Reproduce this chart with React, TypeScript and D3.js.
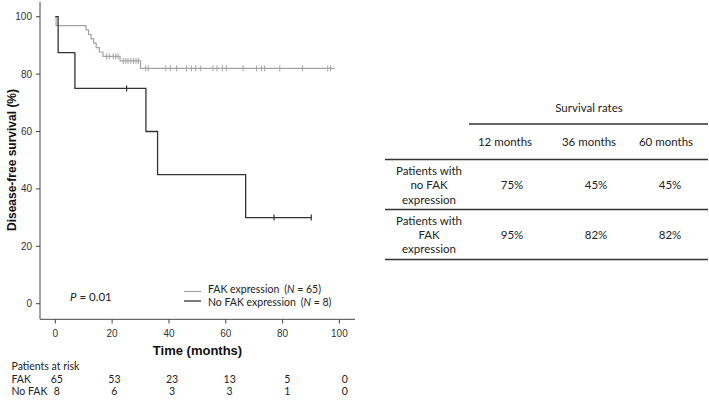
import React from "react";
import * as d3 from "d3";

// ---- Data ----
const xTicks = [0, 20, 40, 60, 80, 100];
const yTicks = [0, 20, 40, 60, 80, 100];

// FAK expression (N = 65): step times and survival after each step
const fakTimes = [0, 0.3, 10.8, 11.7, 12.6, 13.5, 14.4, 15.5, 16.8, 22.8, 30.0];
const fakSurv = [100, 96.9, 95.4, 93.8, 92.3, 90.8, 89.2, 87.7, 86.2, 84.6, 82.0];
const fakEnd = 98.3;
const fakCensor = [18.0, 19.0, 20.4, 21.3, 22.1, 23.9, 24.8, 25.6, 26.6, 27.5, 28.4, 29.2, 31.8, 32.7, 38.9, 40.5, 42.7, 46.2, 47.9, 49.4, 51.2, 55.5, 56.9, 58.8, 60.2, 66.1, 70.8, 72.6, 73.7, 79.0, 87.0, 95.9, 96.9];

// No FAK expression (N = 8)
const noFakTimes = [0, 1.0, 6.9, 31.9, 36.0, 67.0];
const noFakSurv = [100, 87.5, 75, 60, 45, 30];
const noFakEnd = 90.1;
const noFakCensor = [25.1, 77.0, 90.1];

// Risk table
const riskTimes = [0, 20, 40, 60, 80, 100];
const riskFak = [65, 53, 23, 13, 5, 0];
const riskNoFak = [8, 6, 3, 3, 1, 0];

// Survival-rate table
const rateHeaders = ["12 months", "36 months", "60 months"];
const rateRowLabels = [
  ["Patients with", "no FAK", "expression"],
  ["Patients with", "FAK", "expression"],
];
const rateNoFak = ["75%", "45%", "45%"];
const rateFak = ["95%", "82%", "82%"];

const x = d3.scaleLinear().domain([0, 100]).range([55.3, 339.4]);
const y = d3.scaleLinear().domain([0, 100]).range([303.7, 16.7]);

function survAt(times: number[], surv: number[], t: number) {
  let s = surv[0];
  for (let i = 0; i < times.length; i++) if (times[i] <= t) s = surv[i];
  return s;
}

const stepLine = d3
  .line<[number, number]>()
  .x((d) => x(d[0]))
  .y((d) => y(d[1]))
  .curve(d3.curveStepAfter);

function curvePath(times: number[], surv: number[], end: number) {
  const pts: [number, number][] = times.map((t, i) => [t, surv[i]]);
  pts.push([end, surv[surv.length - 1]]);
  return stepLine(pts) || "";
}

const GREY = "#a3a3a3";
const DARK = "#333333";
const AX = "#444444";
const sans = "'Liberation Sans', Arial, sans-serif";
const cal = "Lato, 'Open Sans', sans-serif";

export default function App() {
  const colX = [505, 589, 666];
  const valX = [512, 596, 670];
  return (
    <svg
      width={709}
      height={401}
      style={{ position: "absolute", left: 0, top: 0, background: "#fff" }}
    >
      {/* Axes */}
      <line x1={40} x2={40} y1={2} y2={319.3} stroke={AX} strokeWidth={1} />
      <line x1={40} x2={355} y1={319.3} y2={319.3} stroke={AX} strokeWidth={1} />
      {yTicks.map((t) => (
        <g key={"y" + t}>
          <line x1={36} x2={40} y1={y(t)} y2={y(t)} stroke={AX} />
          <text x={32} y={y(t)} dy="0.35em" textAnchor="end" fontFamily={sans} fontSize={10} fill="#333">
            {t}
          </text>
        </g>
      ))}
      {xTicks.map((t) => (
        <g key={"x" + t}>
          <line x1={x(t)} x2={x(t)} y1={319.3} y2={323.5} stroke={AX} />
          <text x={x(t)} y={333.3} dy="0.35em" textAnchor="middle" fontFamily={sans} fontSize={10} fill="#333">
            {t}
          </text>
        </g>
      ))}
      <text
        transform="translate(12,160) rotate(-90)"
        textAnchor="middle"
        dy="0.35em"
        fontFamily={sans}
        fontSize={12}
        fontWeight="bold"
        fill="#111"
      >
        Disease-free survival (%)
      </text>
      <text x={197.5} y={350.7} dy="0.35em" textAnchor="middle" fontFamily={sans} fontSize={13} fontWeight="bold" fill="#111">
        Time (months)
      </text>

      {/* Curves */}
      <path d={curvePath(fakTimes, fakSurv, fakEnd)} fill="none" stroke={GREY} strokeWidth={1.2} />
      <path d={curvePath(noFakTimes, noFakSurv, noFakEnd)} fill="none" stroke={DARK} strokeWidth={1.3} />
      {fakCensor.map((t, i) => {
        const s = survAt(fakTimes, fakSurv, t);
        return <line key={"fc" + i} x1={x(t)} x2={x(t)} y1={y(s) - 3} y2={y(s) + 3} stroke={GREY} strokeWidth={1} />;
      })}
      {noFakCensor.map((t, i) => {
        const s = survAt(noFakTimes, noFakSurv, t);
        return <line key={"nc" + i} x1={x(t)} x2={x(t)} y1={y(s) - 3} y2={y(s) + 3} stroke={DARK} strokeWidth={1.2} />;
      })}

      {/* P value */}
      <text x={70} y={296.7} dy="0.35em" fontFamily={cal} fontSize={11.5} fill="#222">
        <tspan fontStyle="italic">P</tspan> = 0.01
      </text>

      {/* Legend */}
      <line x1={184} x2={201} y1={291.5} y2={291.5} stroke={GREY} strokeWidth={1.2} />
      <line x1={184} x2={201} y1={301} y2={301} stroke={DARK} strokeWidth={1.3} />
      <text x={208} y={289.8} dy="0.35em" fontFamily={cal} fontSize={10.5} fill="#222">
        FAK expression<tspan dx={5}>(</tspan>
        <tspan fontStyle="italic">N</tspan> = 65)
      </text>
      <text x={208} y={302.5} dy="0.35em" fontFamily={cal} fontSize={10.5} fill="#222">
        No FAK expression<tspan dx={5}>(</tspan>
        <tspan fontStyle="italic">N</tspan> = 8)
      </text>

      {/* Risk table */}
      <text x={11.5} y={366.7} dy="0.35em" fontFamily={cal} fontSize={10.5} fill="#222">
        Patients at risk
      </text>
      <text x={11.5} y={379.3} dy="0.35em" fontFamily={cal} fontSize={10.5} fill="#222">
        FAK
      </text>
      <text x={11.5} y={391.8} dy="0.35em" fontFamily={cal} fontSize={10.5} fill="#222">
        No FAK
      </text>
      {riskTimes.map((t, i) => (
        <g key={"r" + t}>
          <text x={x(t) + 1.5 + i * 0.8} y={379.3} dy="0.35em" textAnchor="middle" fontFamily={cal} fontSize={10.5} fill="#222">
            {riskFak[i]}
          </text>
          <text x={x(t) + 1.5 + i * 0.8} y={391.8} dy="0.35em" textAnchor="middle" fontFamily={cal} fontSize={10.5} fill="#222">
            {riskNoFak[i]}
          </text>
        </g>
      ))}

      {/* Survival rates table */}
      <text x={589} y={108} dy="0.35em" textAnchor="middle" fontFamily={cal} fontSize={11.5} fill="#222">
        Survival rates
      </text>
      <line x1={469} x2={708} y1={124} y2={124} stroke="#333" strokeWidth={1.3} />
      {rateHeaders.map((h, i) => (
        <text key={h} x={colX[i]} y={142} dy="0.35em" textAnchor="middle" fontFamily={cal} fontSize={11.5} fill="#222">
          {h}
        </text>
      ))}
      <line x1={385} x2={708} y1={159.5} y2={159.5} stroke="#333" strokeWidth={1.6} />
      {rateRowLabels[0].map((l, i) => (
        <text key={"a" + i} x={429} y={171 + i * 14.3} dy="0.35em" textAnchor="middle" fontFamily={cal} fontSize={11.5} fill="#222">
          {l}
        </text>
      ))}
      {rateNoFak.map((v, i) => (
        <text key={"v1" + i} x={valX[i]} y={185.3} dy="0.35em" textAnchor="middle" fontFamily={cal} fontSize={11.5} fill="#222">
          {v}
        </text>
      ))}
      <line x1={385} x2={708} y1={209.5} y2={209.5} stroke="#333" strokeWidth={1.3} />
      {rateRowLabels[1].map((l, i) => (
        <text key={"b" + i} x={429} y={220.7 + i * 14.3} dy="0.35em" textAnchor="middle" fontFamily={cal} fontSize={11.5} fill="#222">
          {l}
        </text>
      ))}
      {rateFak.map((v, i) => (
        <text key={"v2" + i} x={valX[i]} y={235.3} dy="0.35em" textAnchor="middle" fontFamily={cal} fontSize={11.5} fill="#222">
          {v}
        </text>
      ))}
      <line x1={385} x2={708} y1={259.5} y2={259.5} stroke="#333" strokeWidth={1.3} />
    </svg>
  );
}
